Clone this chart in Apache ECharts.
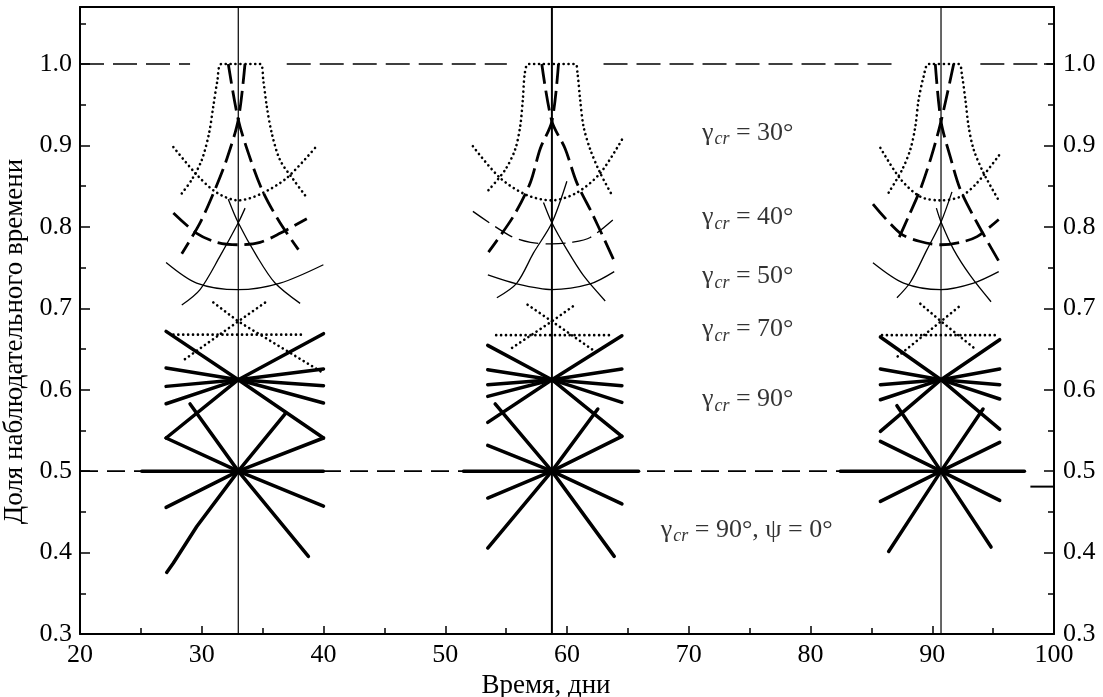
<!DOCTYPE html>
<html>
<head>
<meta charset="utf-8">
<script src="https://cdn.jsdelivr.net/npm/echarts@6/dist/echarts.min.js"></script>
<style>
  html, body { margin: 0; padding: 0; background: #fff; }
  #chart { width: 1103px; height: 697px; }
</style>
</head>
<body>
<div id="chart"></div>
<script>
// Observation windows (days) and share-of-observing-time curves for several critical angles.
const xTickLabels = ['20', '30', '40', '50', '60', '70', '80', '90', '100'];
const yTickLabels = ['0.3', '0.4', '0.5', '0.6', '0.7', '0.8', '0.9', '1.0'];

// Moments of the three windows (vertical lines)
const windowDays = [33.0, 58.76, 90.72];
const windowYSpan = [0.3, 1.07];

// Reference level 1.0 (dashed, interrupted near the windows)
const fullShareSegments = [[20, 29.04], [36.98, 55.06], [63.0, 86.97], [93.95, 100]];
const fullShareLevel = 1.0;
// Reference level 0.5 (dashed)
const halfShareSpan = [20, 97.5];
const halfShareLevel = 0.5;
// short mark near the right frame
const rightMark = [[98.06, 0.481], [100, 0.481]];

// γcr = 30°  (dotted)
const gamma30 = [
  [[28.36,0.841],[29.18,0.858],[30.0,0.882],[30.6,0.915],[30.95,0.948],[31.28,0.979],[31.64,1.0],[34.79,1.0],[35.06,0.979],[35.34,0.948],[35.75,0.915],[36.43,0.882],[37.53,0.858],[38.57,0.837]],
  [[27.67,0.898],[29.59,0.864],[31.23,0.842],[33.0,0.8325],[34.79,0.840],[36.98,0.86],[39.31,0.897]],
  [[53.55,0.845],[54.92,0.870],[55.74,0.895],[56.15,0.923],[56.37,0.956],[56.54,0.989],[56.84,1.0],[60.67,1.0],[60.86,0.989],[61.08,0.956],[61.36,0.923],[61.91,0.895],[62.73,0.866],[63.77,0.837]],
  [[52.27,0.899],[54.51,0.86],[56.7,0.839],[58.76,0.8325],[60.81,0.842],[62.73,0.866],[64.51,0.907]],
  [[86.42,0.842],[87.52,0.870],[88.2,0.895],[88.61,0.923],[88.88,0.956],[89.3,0.985],[89.71,1.0],[92.17,1.0],[92.45,0.985],[92.72,0.956],[92.99,0.923],[93.4,0.895],[94.22,0.866],[95.46,0.8325]],
  [[85.74,0.897],[87.38,0.859],[89.02,0.837],[90.66,0.8325],[92.3,0.837],[93.68,0.854],[95.54,0.889]]
];

// γcr = 40°  (long dashes)
const gamma40 = [
  [[32.18,1.0],[33.0,0.9316],[34.0,0.883],[35.06,0.842],[36.43,0.805],[37.94,0.772]],
  [[33.55,1.0],[33.0,0.9316],[32.05,0.883],[31.09,0.846],[29.86,0.805],[28.36,0.767]],
  [[27.67,0.817],[29.59,0.792],[31.23,0.781],[33.0,0.778],[34.79,0.781],[36.43,0.792],[38.63,0.810]],
  [[57.93,1.0],[58.76,0.9295],[59.85,0.896],[60.81,0.854],[62.18,0.813],[63.82,0.760]],
  [[59.3,1.0],[58.76,0.9295],[57.8,0.896],[56.98,0.854],[55.6,0.813],[53.55,0.769]],
  [[90.25,1.0],[90.72,0.9295],[91.5,0.885],[92.3,0.846],[93.68,0.805],[95.46,0.758]],
  [[91.76,1.0],[90.72,0.9295],[89.9,0.885],[89.02,0.846],[88.06,0.813],[87.1,0.781]],
  [[85.13,0.828],[87.38,0.792],[89.02,0.782],[90.72,0.778],[92.3,0.781],[93.68,0.788],[95.46,0.809]]
];
// γcr = 40°, lower arc of the middle window (thin dashes)
const gamma40Thin = [
  [[52.27,0.819],[55.33,0.789],[57.0,0.781],[58.76,0.779],[60.4,0.781],[61.91,0.787],[63.88,0.810]]
];

// γcr = 50°  (thin solid)
const gamma50 = [
  [[32.18,0.834],[33.0,0.805],[34.52,0.764],[36.02,0.731],[38.08,0.706]],
  [[33.56,0.823],[33.0,0.805],[31.5,0.764],[29.86,0.723],[28.36,0.704]],
  [[27.07,0.7563],[29.58,0.731],[33.0,0.7228],[36.44,0.731],[39.99,0.7535]],
  [[58.07,0.83],[58.76,0.805],[59.99,0.772],[61.36,0.740],[63.14,0.709]],
  [[59.99,0.856],[58.76,0.805],[57.25,0.768],[55.88,0.731],[54.24,0.713]],
  [[53.5,0.741],[55.88,0.730],[58.76,0.723],[61.91,0.730],[63.88,0.745]],
  [[90.34,0.823],[90.72,0.806],[91.76,0.772],[93.13,0.740],[94.83,0.708]],
  [[91.62,0.843],[90.72,0.806],[89.57,0.772],[88.2,0.732],[87.1,0.713]],
  [[85.13,0.756],[87.65,0.731],[90.72,0.723],[93.4,0.731],[95.46,0.745]]
];

// γcr = 70°  (dotted)
const gamma70 = [
  [[27.67,0.6676],[38.49,0.6676]],
  [[30.95,0.7072],[33.0,0.6839],[39.99,0.6205]],
  [[35.2,0.707],[33.0,0.6839],[28.36,0.6348]],
  [[54.18,0.667],[63.69,0.667]],
  [[56.76,0.7044],[58.76,0.684],[62.18,0.6483]],
  [[60.48,0.7023],[58.76,0.684],[55.47,0.6512]],
  [[85.87,0.667],[95.27,0.667]],
  [[89.02,0.7056],[90.72,0.684],[93.68,0.6483]],
  [[92.17,0.7016],[90.72,0.684],[87.16,0.6409]]
];

// γcr = 90°  (thick solid, upper fan)
const gamma90 = [
  [[27.07,0.6716],[33.0,0.6123],[40.0,0.5407]],
  [[27.07,0.5407],[33.0,0.6123],[40.0,0.6688]],
  [[27.07,0.6267],[33.0,0.6123],[40.0,0.5837]],
  [[27.07,0.6041],[33.0,0.6123],[40.0,0.6050]],
  [[27.07,0.5828],[33.0,0.6123],[40.0,0.6254]],
  [[53.49,0.6544],[58.76,0.6123],[64.51,0.5427]],
  [[53.49,0.5599],[58.76,0.6123],[64.51,0.6663]],
  [[53.49,0.6246],[58.76,0.6123],[64.51,0.5845]],
  [[53.49,0.6062],[58.76,0.6123],[64.51,0.6050]],
  [[53.49,0.5918],[58.76,0.6123],[64.51,0.6254]],
  [[85.74,0.6648],[90.72,0.6123],[95.54,0.5517]],
  [[85.74,0.5488],[90.72,0.6123],[95.54,0.6614]],
  [[85.74,0.6254],[90.72,0.6123],[95.54,0.5886]],
  [[85.74,0.6062],[90.72,0.6123],[95.54,0.6062]],
  [[85.74,0.5877],[90.72,0.6123],[95.54,0.6254]]
];

// γcr = 90°, ψ = 0°  (thick solid, lower fan)
const gamma90psi0 = [
  [[25.07,0.5],[39.99,0.5]],
  [[27.07,0.5407],[33.0,0.5],[40.0,0.457]],
  [[40.0,0.5407],[33.0,0.5],[27.07,0.4555]],
  [[29.04,0.5825],[33.0,0.5],[38.76,0.3953]],
  [[36.85,0.5702],[33.0,0.5],[29.59,0.4321],[27.67,0.3872],[27.12,0.3756]],
  [[51.5,0.5],[65.88,0.5]],
  [[53.49,0.5316],[58.76,0.5],[64.51,0.4597]],
  [[64.51,0.5427],[58.76,0.5],[53.49,0.467]],
  [[54.1,0.5825],[58.76,0.5],[63.88,0.3953]],
  [[62.53,0.5763],[58.76,0.5],[53.49,0.4056]],
  [[82.45,0.5],[97.57,0.5]],
  [[85.74,0.5365],[90.72,0.5],[95.54,0.4641]],
  [[95.54,0.5353],[90.72,0.5],[85.74,0.4628]],
  [[87.1,0.5804],[90.72,0.5],[94.83,0.4068]],
  [[94.17,0.5763],[90.72,0.5],[86.42,0.4014]]
];

// Curve captions
const captionTails = [' = 30°', ' = 40°', ' = 50°', ' = 70°', ' = 90°', ' = 90°, ψ = 0°'];
const captionAnchors = [[71.08, 0.9156], [71.08, 0.8113], [71.08, 0.7389], [71.08, 0.6738], [71.08, 0.5878], [67.7, 0.428]];

const FONT = 'Liberation Serif';
const INK = '#000';

function polylineSeries(polys, style, smooth, z) {
  return polys.map(pts => ({
    type: 'line',
    data: pts,
    symbol: 'none',
    showSymbol: false,
    smooth: smooth,
    silent: true,
    animation: false,
    z: z || 3,
    lineStyle: Object.assign({ color: INK, join: 'round' }, style)
  }));
}

const series = [];
// vertical window lines
windowDays.forEach((d, i) => {
  series.push(...polylineSeries([[[d, windowYSpan[0]], [d, windowYSpan[1]]]], { width: i === 1 ? 2 : 1.2 }, false, 2));
});
// reference levels
series.push(...polylineSeries(fullShareSegments.map(s => [[s[0], fullShareLevel], [s[1], fullShareLevel]]), { width: 1.6, type: [24, 9] }, false, 2));
series.push(...polylineSeries([[[halfShareSpan[0], halfShareLevel], [halfShareSpan[1], halfShareLevel]]], { width: 1.6, type: [18, 9] }, false, 2));
series.push(...polylineSeries([rightMark], { width: 2 }, false, 2));

const dotStyle = { width: 2.6, type: [0.1, 4.8], cap: 'round' };
series.push(...polylineSeries(gamma30, dotStyle, 0.3));
series.push(...polylineSeries(gamma40, { width: 2.8, type: [20, 7] }, 0.3));
series.push(...polylineSeries(gamma40Thin, { width: 1.3, type: [20, 7] }, 0.3));
series.push(...polylineSeries(gamma50, { width: 1.3 }, 0.3));
series.push(...polylineSeries(gamma70, dotStyle, false));
series.push(...polylineSeries(gamma90, { width: 3.5, cap: 'round' }, false, 4));
series.push(...polylineSeries(gamma90psi0, { width: 3.5, cap: 'round' }, false, 4));

// captions
series.push({
  type: 'scatter',
  symbolSize: 0,
  silent: true,
  animation: false,
  z: 5,
  data: captionAnchors.map((p, i) => ({ value: p, tail: captionTails[i] })),
  label: {
    show: true,
    position: 'right',
    distance: 0,
    color: INK,
    fontFamily: FONT,
    fontSize: 26,
    formatter: p => '{g|γ}{s|cr}{t|' + p.data.tail + '}',
    rich: {
      g: { fontFamily: FONT, fontSize: 26, color: INK },
      s: { fontFamily: FONT, fontSize: 18, fontStyle: 'italic', color: INK, padding: [13, 0, 0, 1] },
      t: { fontFamily: FONT, fontSize: 26, color: INK }
    }
  }
});

const yLabel = v => {
  const s = v.toFixed(1);
  return (Math.abs(v - Number(s)) < 1e-6 && yTickLabels.includes(s)) ? s : '';
};
const xLabel = v => {
  const s = String(Math.round(v));
  return xTickLabels.includes(s) ? s : '';
};
const frameLine = { show: true, onZero: false, lineStyle: { color: INK, width: 2 } };
const labelFont = { fontFamily: FONT, fontSize: 26, color: INK };

const option = {
  animation: false,
  backgroundColor: '#fff',
  grid: { left: 80, right: 49, top: 7, bottom: 63, containLabel: false, outerBoundsMode: 'none' },
  xAxis: [
    {
      type: 'value', min: 20, max: 100, interval: 10, position: 'bottom',
      axisLine: frameLine,
      axisTick: { show: true, inside: true, length: 8, lineStyle: { color: INK, width: 1.5 } },
      minorTick: { show: true, splitNumber: 2, length: 6, lineStyle: { color: INK, width: 1.5 } },
      splitLine: { show: false },
      axisLabel: Object.assign({ margin: 8, formatter: xLabel }, labelFont),
      name: 'Время, дни', nameLocation: 'middle', nameGap: 36,
      nameTextStyle: { fontFamily: FONT, fontSize: 27, color: INK, padding: [0, 42, 0, 0] }
    },
    {
      type: 'value', min: 20, max: 100, position: 'top',
      axisLine: frameLine, axisTick: { show: false }, axisLabel: { show: false }, splitLine: { show: false }
    }
  ],
  yAxis: [
    {
      type: 'value', min: 0.3, max: 1.07, interval: 0.1, position: 'left',
      axisLine: frameLine,
      axisTick: { show: true, inside: true, length: 10, lineStyle: { color: INK, width: 1.5 } },
      splitLine: { show: false },
      axisLabel: Object.assign({ margin: 8, formatter: yLabel }, labelFont),
      name: 'Доля наблюдательного времени', nameLocation: 'middle', nameGap: 43,
      nameTextStyle: { fontFamily: FONT, fontSize: 27, color: INK, padding: [0, 42, 0, 0] }
    },
    {
      type: 'value', min: 0.3, max: 1.07, interval: 0.05, position: 'left',
      axisLine: { show: false },
      axisTick: { show: true, inside: true, length: 6, lineStyle: { color: INK, width: 1.5 } },
      splitLine: { show: false }, axisLabel: { show: false }
    },
    {
      type: 'value', min: 0.3, max: 1.07, interval: 0.1, position: 'right',
      axisLine: frameLine,
      axisTick: { show: true, inside: true, length: 10, lineStyle: { color: INK, width: 1.5 } },
      splitLine: { show: false },
      axisLabel: Object.assign({ margin: 9, formatter: yLabel }, labelFont)
    },
    {
      type: 'value', min: 0.3, max: 1.07, interval: 0.05, position: 'right',
      axisLine: { show: false },
      axisTick: { show: true, inside: true, length: 6, lineStyle: { color: INK, width: 1.5 } },
      splitLine: { show: false }, axisLabel: { show: false }
    }
  ],
  series: series
};

const chart = echarts.init(document.getElementById('chart'), null, { renderer: 'canvas' });
chart.setOption(option);
</script>
</body>
</html>
